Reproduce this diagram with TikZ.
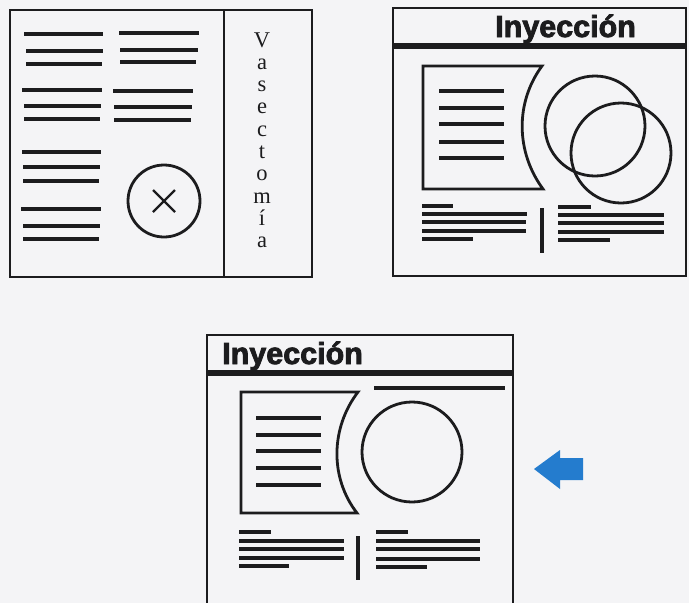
\documentclass[tikz,border=0pt]{standalone}
\usepackage{fontspec}
\setmainfont{Liberation Serif}
\newfontfamily\titlefont[FakeBold=2.6]{Liberation Sans Bold}
\definecolor{bg}{RGB}{244,244,246}
\definecolor{ink}{RGB}{28,28,30}
\definecolor{arrowblue}{RGB}{36,124,206}
\tikzset{
  frame/.style={draw=ink, line width=2.8pt},
  txt/.style={draw=ink, line width=3.2pt},
  flag/.style={draw=ink, line width=2.8pt, line join=miter},
  ring/.style={draw=ink, line width=2.8pt},
  rule/.style={draw=ink, line width=6pt},
  title/.style={anchor=base west, inner sep=0pt, text=ink, font=\titlefont\fontsize{30.5}{30.5}\selectfont},
  letter/.style={anchor=base, inner sep=0pt, text=ink, font=\fontsize{22.5}{22.5}\selectfont}
}
\begin{document}
\begin{tikzpicture}[x=1pt,y=-1pt]
\fill[bg] (0,0) rectangle (689,603);
\useasboundingbox (0,0) rectangle (689,603);

% ---------- Panel 1 ----------
\draw[frame] (10,10) rectangle (312,277);
\draw[frame] (224,10) -- (224,277);
% left text groups
\draw[txt] (24,34) -- (103,34) (26,51) -- (103,51) (26,64) -- (102,64);
\draw[txt] (119,33) -- (199,33) (120,50) -- (198,50) (120,62) -- (196,62);
\draw[txt] (22,90) -- (102,90) (24,106) -- (101,106) (24,119) -- (100,119);
\draw[txt] (113,91) -- (193,91) (114,107) -- (192,107) (114,120) -- (191,120);
\draw[txt] (22,152) -- (101,152) (23,167) -- (100,167) (23,181) -- (99,181);
\draw[txt] (21,209) -- (101,209) (23,226) -- (100,226) (23,239) -- (99,239);
% circle with cross
\draw[ring] (164,201) circle (36);
\draw[ink, line width=2.4pt] (153,190) -- (175,212) (175,190) -- (153,212);
% vertical word
\foreach \l [count=\i] in {V,a,s,e,c,t,o,m,í,a}
  \node[letter] (v\i) at (262,{47+22.3*(\i-1)}) {\l};

% ---------- Panel 2 ----------
\draw[frame] (393,8) rectangle (686,276);
\draw[rule] (393,46) -- (686,46);
\node[title] (t2) at (495,37) {Inyección};
\draw[flag] (423,66) -- (542,66) .. controls (514.9,102.7) and (515.9,152.3) .. (543,189) -- (423,189) -- cycle;
\foreach \yy in {91,108,124,142,158}
  \draw[txt] (439,\yy) -- (504,\yy);
\draw[ring] (595,126) circle (50);
\draw[ring] (621,153) circle (50);
\draw[txt] (422,206) -- (453,206) (422,214) -- (527,214) (422,222) -- (526,222) (422,231) -- (526,231) (422,239) -- (473,239);
\draw[txt] (542,208) -- (542,253);
\draw[txt] (558,207) -- (591,207) (558,215) -- (664,215) (558,223) -- (664,223) (558,232) -- (664,232) (558,240) -- (610,240);

% ---------- Panel 3 ----------
\draw[frame] (207,606) -- (207,335) -- (513,335) -- (513,606);
\draw[rule] (207,373) -- (513,373);
\node[title] (t3) at (222,364) {Inyección};
\draw[txt] (374,388) -- (505,388);
\draw[flag] (241,392) -- (358,392) .. controls (330.7,427.7) and (329.5,477.5) .. (357,513) -- (241,513) -- cycle;
\foreach \yy in {418,435,451,468,485}
  \draw[txt] (256,\yy) -- (321,\yy);
\draw[ring] (412,452) circle (50);
\draw[txt] (239,532) -- (271,532) (239,541) -- (344,541) (239,549) -- (344,549) (239,558) -- (344,558) (239,566) -- (289,566);
\draw[txt] (358,536) -- (358,580);
\draw[txt] (376,532) -- (408,532) (376,541) -- (480,541) (376,549) -- (480,549) (376,559) -- (480,559) (376,567) -- (427,567);

% ---------- Arrow ----------
\fill[arrowblue] (534,469) -- (560,450) -- (560,458) -- (583,458) -- (583,480) -- (560,480) -- (560,489) -- cycle;
\end{tikzpicture}
\end{document}
